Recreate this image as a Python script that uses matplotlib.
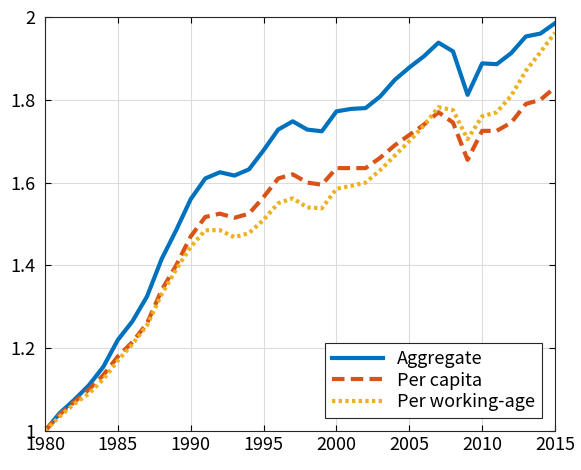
import matplotlib
matplotlib.use('Agg')
import matplotlib.pyplot as plt

years = list(range(1980, 2016))
aggregate = [1.0, 1.043, 1.075, 1.11, 1.155, 1.22, 1.265, 1.325, 1.415, 1.485,
             1.56, 1.61, 1.625, 1.617, 1.632, 1.678, 1.728, 1.748, 1.728, 1.724,
             1.772, 1.778, 1.780, 1.808, 1.848, 1.878, 1.905, 1.938, 1.917, 1.812,
             1.888, 1.886, 1.913, 1.953, 1.960, 1.985]
per_capita = [1.0, 1.04, 1.07, 1.10, 1.135, 1.18, 1.215, 1.26, 1.34, 1.40,
              1.47, 1.517, 1.525, 1.515, 1.525, 1.565, 1.61, 1.62, 1.60, 1.595,
              1.635, 1.635, 1.635, 1.66, 1.69, 1.715, 1.74, 1.77, 1.745, 1.655,
              1.725, 1.725, 1.745, 1.79, 1.80, 1.83]
per_working_age = [1.0, 1.035, 1.065, 1.09, 1.125, 1.17, 1.21, 1.255, 1.33, 1.39,
                   1.445, 1.485, 1.485, 1.468, 1.478, 1.51, 1.55, 1.562, 1.54, 1.538,
                   1.585, 1.592, 1.6, 1.63, 1.665, 1.70, 1.738, 1.782, 1.775, 1.705,
                   1.76, 1.77, 1.81, 1.87, 1.915, 1.962]

plt.rcParams['font.family'] = ['Noto Sans CJK JP', 'DejaVu Sans']

fig = plt.figure(figsize=(5.81, 4.70), dpi=100)
ax = fig.add_axes([45 / 581, 39 / 470, 510 / 581, 414 / 470])

ax.plot(years, aggregate, color='#0072BD', lw=3, label='Aggregate')
ax.plot(years, per_capita, color='#D95319', lw=3, ls=(0, (3, 1.5)), label='Per capita')
ax.plot(years, per_working_age, color='#EDB120', lw=3, ls=(0, (0.8, 0.8)), label='Per working-age')

ax.set_xlim(1980, 2015)
ax.set_ylim(1, 2)
ax.set_xticks(range(1980, 2016, 5))
ax.set_yticks([1, 1.2, 1.4, 1.6, 1.8, 2])
ax.set_yticklabels(['1', '1.2', '1.4', '1.6', '1.8', '2'])
ax.grid(True, color='#dcdcdc', lw=0.8)
ax.tick_params(labelsize=13, direction='in', length=4, top=True, right=True)
ax.tick_params(axis='y', pad=7)
for s in ax.spines.values():
    s.set_color('#262626')
    s.set_linewidth(0.8)

leg = ax.legend(loc='lower right', fontsize=13, fancybox=False, framealpha=1,
                edgecolor='#262626', handlelength=2.8, borderaxespad=0.7,
                labelspacing=0.2)
leg.get_frame().set_linewidth(0.8)

fig.savefig('out.png', dpi=100)
